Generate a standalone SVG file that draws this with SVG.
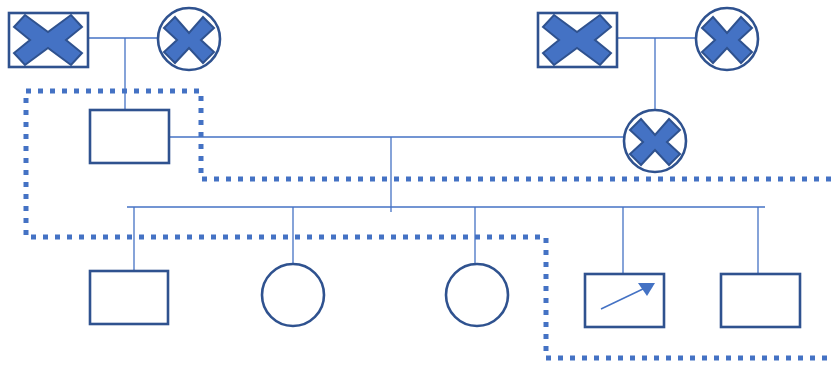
<svg xmlns="http://www.w3.org/2000/svg" xmlns:xlink="http://www.w3.org/1999/xlink" width="831" height="365" viewBox="0 0 831 365">
<style>
.node{fill:#fff;stroke:#2F528F;stroke-width:2.6}
.x{fill:#4472C4;stroke:#2F528F;stroke-width:2;stroke-linejoin:miter}
.con{fill:none;stroke:#4472C4;stroke-width:1.3}
.dot{fill:none;stroke:#4472C4;stroke-width:5;stroke-dasharray:5 7}
</style>
<defs>
<polygon id="xbox" class="x" points="-34,-13 -23,-25 0,-8 23,-25 34,-13 18,0 34,13 23,25 0,8 -23,25 -34,13 -18,0"/>
<polygon id="xcirc" class="x" points="-25,-12 -14,-23 0,-7 14,-23 25,-12 12,0 25,12 14,23 0,8 -14,23 -25,12 -12,0"/>
</defs>
<rect width="831" height="365" fill="#fff"/>
<g id="connectors">
<line class="con" x1="88" y1="38" x2="158" y2="38"/>
<line class="con" x1="125" y1="38" x2="125" y2="110"/>
<line class="con" x1="617" y1="38" x2="695" y2="38"/>
<line class="con" x1="655" y1="38" x2="655" y2="110"/>
<line class="con" x1="169" y1="137" x2="624" y2="137"/>
<line class="con" x1="391" y1="137" x2="391" y2="212"/>
<line class="con" x1="127" y1="207" x2="765" y2="207"/>
<line class="con" x1="134" y1="207" x2="134" y2="270"/>
<line class="con" x1="293" y1="207" x2="293" y2="264"/>
<line class="con" x1="475" y1="207" x2="475" y2="264"/>
<line class="con" x1="623" y1="207" x2="623" y2="273"/>
<line class="con" x1="758" y1="207" x2="758" y2="273"/>
</g>
<g id="boundary">
<polyline class="dot" points="831,179 201,179 201,91 26,91 26,237 546,237 546,358 831,358"/>
</g>
<g id="gf1"><rect class="node" x="9" y="13" width="79" height="54"/><use xlink:href="#xbox" x="48" y="40"/></g>
<g id="gm1"><circle class="node" cx="189" cy="39" r="31"/><use xlink:href="#xcirc" x="189" y="40"/></g>
<g id="gf2"><rect class="node" x="538" y="13" width="79" height="54"/><use xlink:href="#xbox" x="577" y="40"/></g>
<g id="gm2"><circle class="node" cx="727" cy="39" r="31"/><use xlink:href="#xcirc" x="727" y="40"/></g>
<g id="father"><rect class="node" x="90" y="110" width="79" height="53"/></g>
<g id="mother"><circle class="node" cx="655" cy="141" r="31"/><use xlink:href="#xcirc" x="655" y="142"/></g>
<g id="c1"><rect class="node" x="90" y="271" width="78" height="53"/></g>
<g id="c2"><circle class="node" cx="293" cy="295" r="31"/></g>
<g id="c3"><circle class="node" cx="477" cy="295" r="31"/></g>
<g id="c4"><rect class="node" x="585" y="274" width="79" height="53"/>
<line x1="601" y1="309" x2="645" y2="288" stroke="#4472C4" stroke-width="1.5"/>
<polygon points="638,283 655,283 647,296" fill="#4472C4"/></g>
<g id="c5"><rect class="node" x="721" y="274" width="79" height="53"/></g>
</svg>
